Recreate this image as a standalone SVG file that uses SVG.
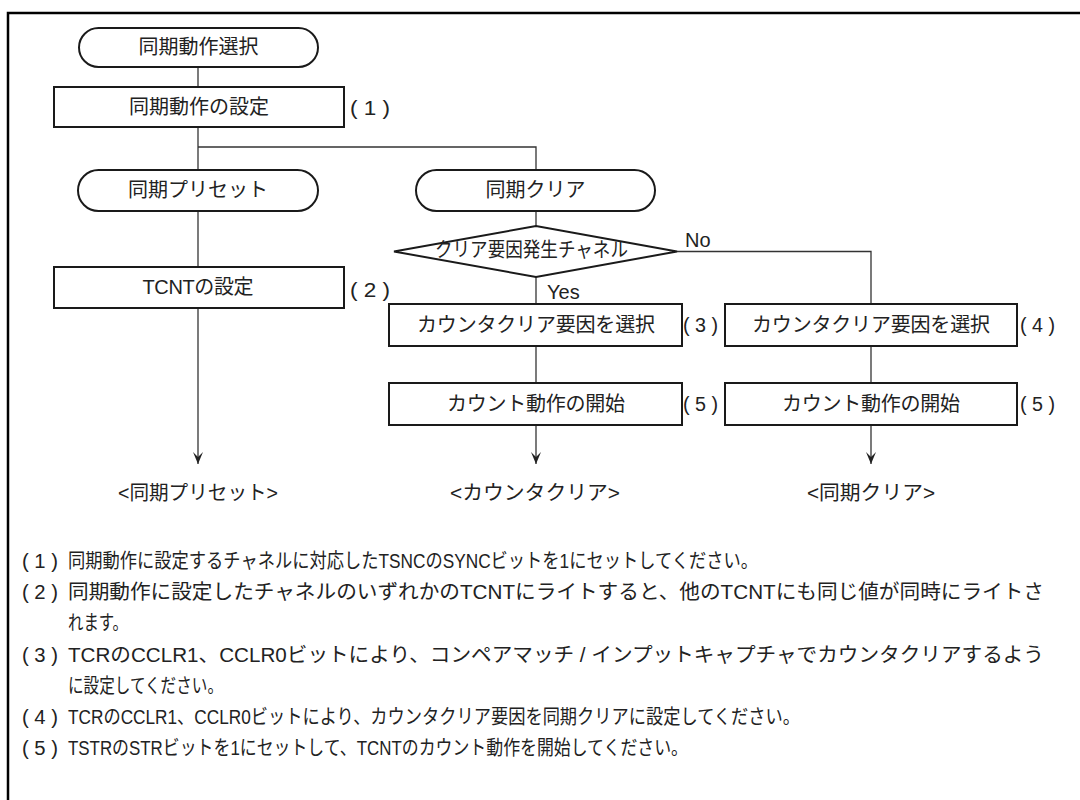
<svg xmlns="http://www.w3.org/2000/svg" width="1080" height="800" viewBox="0 0 1080 800">
<defs>
<style>
.frame{fill:none;stroke:#000;stroke-width:2.5}
.shape{fill:#fff;stroke:#1a1a1a;stroke-width:2}
.conn{fill:none;stroke:#333;stroke-width:1.3}
.t{font-family:"Liberation Sans","Noto Sans CJK JP",sans-serif;font-size:20px;fill:#222}
.c{text-anchor:middle}
.n{font-family:"Liberation Sans","Noto Sans CJK JP",sans-serif;font-size:20px;fill:#222}
</style>
<marker id="arr" markerWidth="12" markerHeight="10" refX="12" refY="5" orient="auto" markerUnits="userSpaceOnUse" viewBox="0 0 12 10">
<path d="M0,0 L12,5 L0,10 L5,5 Z" fill="#222"/>
</marker>
</defs>
<rect width="1080" height="800" fill="#fff"/>
<path class="frame" d="M8,800 V13 H1080"/>

<g id="connectors">
<line class="conn" x1="198" y1="67" x2="198" y2="87"/>
<path class="conn" d="M198,127 V170"/>
<path class="conn" d="M198,147 H536 V170"/>
<line class="conn" x1="198" y1="211" x2="198" y2="267"/>
<line class="conn" x1="198" y1="308" x2="198" y2="464" marker-end="url(#arr)"/>
<line class="conn" x1="536" y1="211" x2="536" y2="226"/>
<line class="conn" x1="536" y1="277" x2="536" y2="304"/>
<path class="conn" d="M677,251.5 H871 V304"/>
<line class="conn" x1="536" y1="346" x2="536" y2="383"/>
<line class="conn" x1="871" y1="346" x2="871" y2="383"/>
<line class="conn" x1="536" y1="425" x2="536" y2="464" marker-end="url(#arr)"/>
<line class="conn" x1="871" y1="425" x2="871" y2="464" marker-end="url(#arr)"/>
<text class="t" x="685" y="247" font-size="18">No</text>
<text class="t" x="547" y="299" font-size="18">Yes</text>
</g>

<g id="start">
<rect class="shape" x="79" y="28" width="239" height="39" rx="19.5"/>
<text class="t c" x="198.5" y="54" textLength="120">同期動作選択</text>
</g>
<g id="sync-setting">
<rect class="shape" x="54" y="87" width="290" height="40"/>
<text class="t c" x="199" y="114" textLength="140">同期動作の設定</text>
<text class="t" x="350" y="115" textLength="40" lengthAdjust="spacingAndGlyphs">( 1 )</text>
</g>
<g id="preset-term">
<rect class="shape" x="78" y="170" width="240" height="41" rx="20.5"/>
<text class="t c" x="198" y="197" textLength="140">同期プリセット</text>
</g>
<g id="tcnt-setting">
<rect class="shape" x="54" y="267" width="290" height="41"/>
<text class="t c" x="198" y="294" textLength="111">TCNTの設定</text>
<text class="t" x="350" y="297" textLength="40" lengthAdjust="spacingAndGlyphs">( 2 )</text>
</g>
<g id="clear-term">
<rect class="shape" x="416" y="170" width="239" height="41" rx="20.5"/>
<text class="t c" x="535.5" y="197" textLength="100">同期クリア</text>
</g>
<g id="decision">
<polygon class="shape" points="394,251.5 536,226 677,251.5 536,277"/>
<text class="t c" x="531.5" y="257" font-size="19" textLength="193" lengthAdjust="spacingAndGlyphs">クリア要因発生チャネル</text>
</g>
<g id="select3">
<rect class="shape" x="389" y="304" width="293" height="42"/>
<text class="t c" x="536" y="332" textLength="238">カウンタクリア要因を選択</text>
<text class="t" x="683" y="332" textLength="35" lengthAdjust="spacingAndGlyphs">( 3 )</text>
</g>
<g id="select4">
<rect class="shape" x="725" y="304" width="292" height="42"/>
<text class="t c" x="871" y="332" textLength="238">カウンタクリア要因を選択</text>
<text class="t" x="1020" y="332" textLength="35" lengthAdjust="spacingAndGlyphs">( 4 )</text>
</g>
<g id="start5a">
<rect class="shape" x="389" y="383" width="293" height="42"/>
<text class="t c" x="536" y="411" textLength="178">カウント動作の開始</text>
<text class="t" x="683" y="411" textLength="35" lengthAdjust="spacingAndGlyphs">( 5 )</text>
</g>
<g id="start5b">
<rect class="shape" x="725" y="383" width="292" height="42"/>
<text class="t c" x="871" y="411" textLength="178">カウント動作の開始</text>
<text class="t" x="1020" y="411" textLength="35" lengthAdjust="spacingAndGlyphs">( 5 )</text>
</g>
<g id="end-preset"><text class="t c" x="198" y="500" font-size="19" textLength="160" lengthAdjust="spacingAndGlyphs">&lt;同期プリセット&gt;</text></g>
<g id="end-counter"><text class="t c" x="535" y="500" font-size="19" textLength="170" lengthAdjust="spacingAndGlyphs">&lt;カウンタクリア&gt;</text></g>
<g id="end-clear"><text class="t c" x="871" y="500" font-size="19" textLength="128" lengthAdjust="spacingAndGlyphs">&lt;同期クリア&gt;</text></g>

<g id="notes">
<text class="n" x="22" y="568" textLength="36" lengthAdjust="spacingAndGlyphs">( 1 )</text>
<text class="n" x="68" y="568" textLength="690" lengthAdjust="spacingAndGlyphs">同期動作に設定するチャネルに対応したTSNCのSYNCビットを1にセットしてください。</text>
<text class="n" x="22" y="599" textLength="36" lengthAdjust="spacingAndGlyphs">( 2 )</text>
<text class="n" x="68" y="599" textLength="976" lengthAdjust="spacingAndGlyphs">同期動作に設定したチャネルのいずれかのTCNTにライトすると、他のTCNTにも同じ値が同時にライトさ</text>
<text class="n" x="68" y="630" textLength="60" lengthAdjust="spacingAndGlyphs">れます。</text>
<text class="n" x="22" y="662" textLength="36" lengthAdjust="spacingAndGlyphs">( 3 )</text>
<text class="n" x="68" y="662" textLength="976" lengthAdjust="spacingAndGlyphs">TCRのCCLR1、CCLR0ビットにより、コンペアマッチ / インプットキャプチャでカウンタクリアするよう</text>
<text class="n" x="68" y="693" textLength="155" lengthAdjust="spacingAndGlyphs">に設定してください。</text>
<text class="n" x="22" y="724" textLength="36" lengthAdjust="spacingAndGlyphs">( 4 )</text>
<text class="n" x="68" y="724" textLength="732" lengthAdjust="spacingAndGlyphs">TCRのCCLR1、CCLR0ビットにより、カウンタクリア要因を同期クリアに設定してください。</text>
<text class="n" x="22" y="755" textLength="36" lengthAdjust="spacingAndGlyphs">( 5 )</text>
<text class="n" x="68" y="755" textLength="620" lengthAdjust="spacingAndGlyphs">TSTRのSTRビットを1にセットして、TCNTのカウント動作を開始してください。</text>
</g>
</svg>
